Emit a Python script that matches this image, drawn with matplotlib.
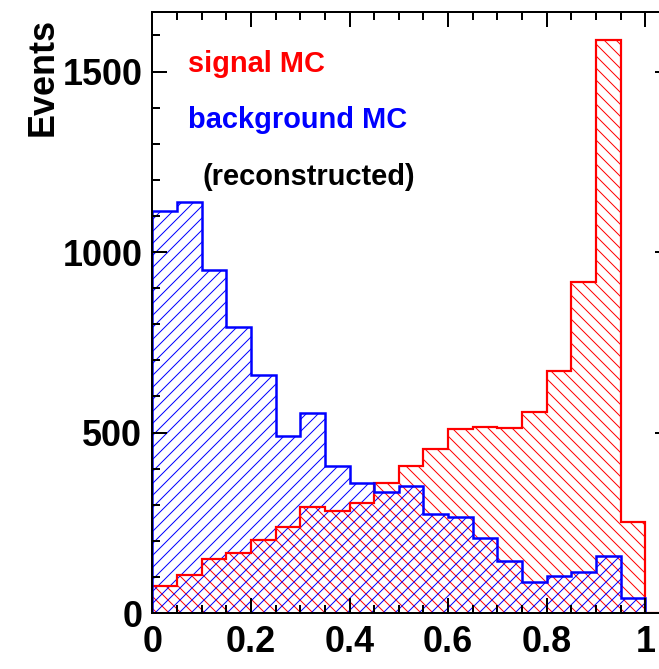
import matplotlib
matplotlib.use("Agg")
import matplotlib.pyplot as plt
import numpy as np

# histogram binning (ROOT style: 21 bins of 0.05 from 0 to 1.05)
bin_edges = [0.00, 0.05, 0.10, 0.15, 0.20, 0.25, 0.30, 0.35, 0.40, 0.45, 0.50,
             0.55, 0.60, 0.65, 0.70, 0.75, 0.80, 0.85, 0.90, 0.95, 1.00, 1.05]

signal_mc = [74, 106, 150, 166, 202, 237, 293, 283, 306, 360,
             407, 454, 509, 514, 513, 557, 669, 916, 1586, 253, 0]
background_mc = [1114, 1139, 951, 792, 660, 491, 555, 407, 359, 334,
                 352, 274, 267, 208, 144, 86, 103, 114, 157, 41, 0]

xtick_vals = [0, 0.2, 0.4, 0.6, 0.8, 1.0]
xtick_labels = ["0", "0.2", "0.4", "0.6", "0.8", "1"]
ytick_vals = [0, 500, 1000, 1500]
ytick_labels = ["0", "500", "1000", "1500"]

plt.rcParams['font.family'] = ['Liberation Sans', 'DejaVu Sans']
plt.rcParams['font.weight'] = 'bold'
plt.rcParams['hatch.linewidth'] = 1.0

fig = plt.figure(figsize=(659 / 72, 669 / 72), dpi=72)
ax = fig.add_axes([0.2311, 0.0837, 0.7856, 0.8979])

edges = np.array(bin_edges)

# hatched fills
ax.stairs(signal_mc, edges, fill=True, facecolor='none', edgecolor='red',
          hatch='\\\\', linewidth=0)
ax.stairs(background_mc, edges, fill=True, facecolor='none', edgecolor='blue',
          hatch='//', linewidth=0)
# outlines
ax.stairs(signal_mc, edges, color='red', linewidth=2.2)
ax.stairs(background_mc, edges, color='blue', linewidth=2.5)

ax.set_xlim(0, 1.05)
ax.set_ylim(0, 1664)

ax.set_xticks(xtick_vals)
ax.set_xticklabels(xtick_labels)
ax.set_xticks(np.arange(0, 1.06, 0.05), minor=True)
ax.set_yticks(ytick_vals)
ax.set_yticklabels(ytick_labels)
ax.set_yticks(np.arange(0, 1700, 100), minor=True)

ax.tick_params(which='both', direction='in', top=True, right=True, width=2,
               labelsize=36)
ax.tick_params(which='major', length=15)
ax.tick_params(which='minor', length=8)
ax.tick_params(axis='y', pad=10)
ax.tick_params(axis='x', pad=12)
for sp in ax.spines.values():
    sp.set_linewidth(2)

fig.text(43 / 659, 1 - 18 / 669, "Events", rotation=90, ha='center', va='top',
         fontsize=36, fontweight='bold')

ax.text(0.072, 1499, "signal MC", color='red', fontsize=29,
        fontweight='bold', va='baseline')
ax.text(0.072, 1343, "background MC", color='blue', fontsize=29,
        fontweight='bold', va='baseline')
ax.text(0.102, 1186, "(reconstructed)", color='black', fontsize=29,
        fontweight='bold', va='baseline')

fig.savefig("out.png", dpi=72)
